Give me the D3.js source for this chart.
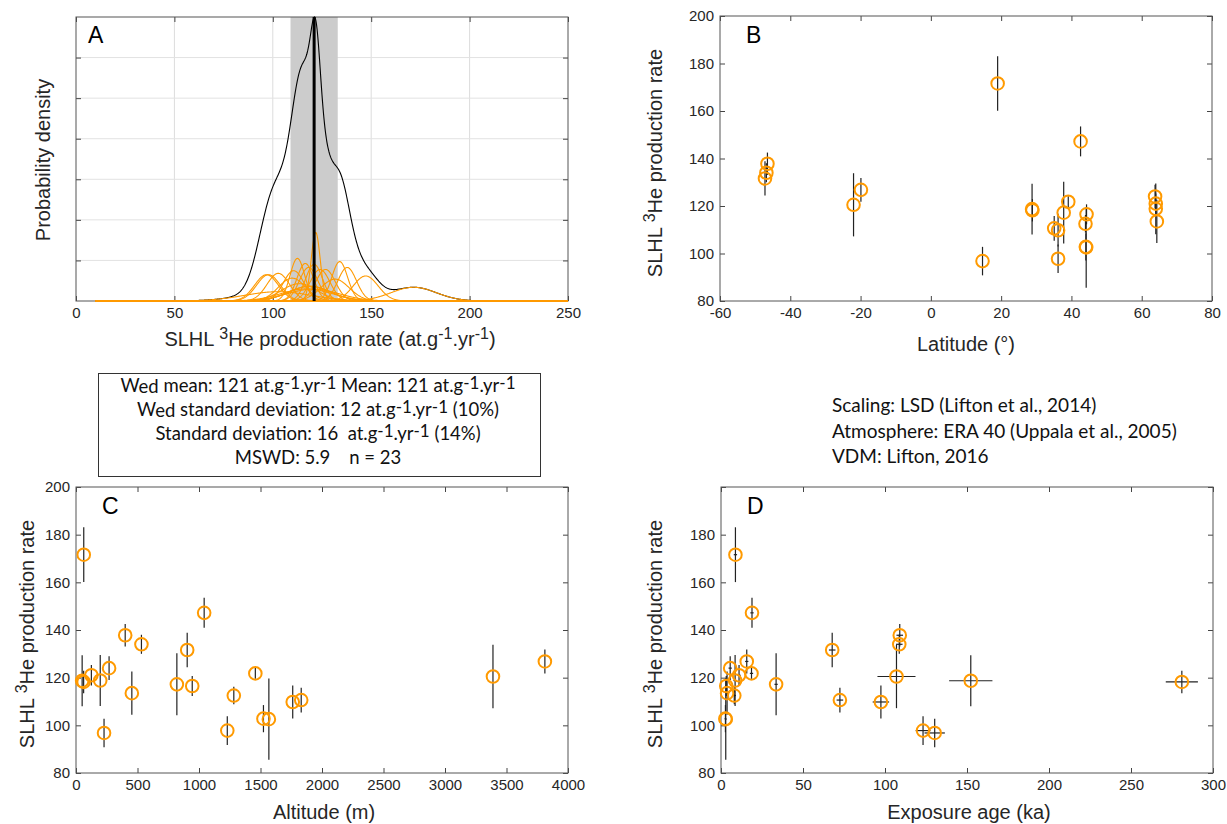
<!DOCTYPE html>
<html>
<head>
<meta charset="utf-8">
<script src="https://cdn.jsdelivr.net/npm/d3@7"></script>
<style>
body { margin: 0; background: #fff; }
svg { display: block; }
text { white-space: pre; }
</style>
</head>
<body>
<svg id="chart" width="1227" height="824"></svg>
<script>
//Sample data (23 calibration sites)
var latitude = [-46.5, -46.8, -47.2, -22.0, -19.9, 14.7, 19.0, 28.8, 28.9, 35.1, 36.2, 36.2, 37.8, 39.1, 42.6, 44.0, 44.3, 44.1, 44.2, 63.8, 64.0, 64.0, 64.3];
var altitude = [400, 532, 904, 3390, 3812, 228, 63, 50, 62, 1831, 1762, 1230, 820, 1458, 1042, 1283, 945, 1524, 1568, 269, 125, 197, 454];
var exposureAge = [109, 108.7, 67.8, 107, 15.7, 130.3, 8.8, 152.3, 281, 72.5, 97.5, 123.2, 33.6, 18.6, 18.9, 8.1, 3.2, 2.7, 2.9, 5.6, 11.0, 8.6, 3.7];
var ageError = [2, 2, 2, 11.6, 1, 6.2, 1, 13.2, 9.8, 2, 5, 4.5, 1, 1, 1, 1, 0.5, 0.5, 0.5, 1, 1, 1, 0.5];
var productionRate = [137.8, 134.0, 131.6, 120.5, 126.8, 96.8, 171.6, 118.7, 118.2, 110.6, 109.8, 97.8, 117.2, 121.8, 147.2, 112.5, 116.5, 102.8, 102.6, 124.0, 121.0, 118.8, 113.5];
var rateError = [4.7, 4.0, 7.2, 13.3, 5.0, 6.0, 11.5, 10.7, 4.7, 5.2, 6.9, 6.0, 13.0, 2.3, 6.3, 3.7, 4.2, 5.7, 17.0, 5.0, 4.3, 10.7, 9.1];

//Summary values
var weightedMean = 121;
var weightedSd = 12;

//Tick values
var densityTicks = [0, 50, 100, 150, 200, 250];
var latTicks = [-60, -40, -20, 0, 20, 40, 60, 80];
var altTicks = [0, 500, 1000, 1500, 2000, 2500, 3000, 3500, 4000];
var ageTicks = [0, 50, 100, 150, 200, 250, 300];
var rateTicks = [80, 100, 120, 140, 160, 180, 200];
var ageRateTicks = [80, 100, 120, 140, 160, 180];

//Text blocks
var statsLines = [
    [{t: 'W'}, {t: 'ed', sub: true}, {t: ' mean: 121 at.g'}, {t: '-1', sup: true}, {t: '.yr'}, {t: '-1', sup: true}, {t: ' Mean: 121 at.g'}, {t: '-1', sup: true}, {t: '.yr'}, {t: '-1', sup: true}],
    [{t: 'W'}, {t: 'ed', sub: true}, {t: ' standard deviation: 12 at.g'}, {t: '-1', sup: true}, {t: '.yr'}, {t: '-1', sup: true}, {t: ' (10%)'}],
    [{t: 'Standard deviation: 16  at.g'}, {t: '-1', sup: true}, {t: '.yr'}, {t: '-1', sup: true}, {t: ' (14%)'}],
    [{t: 'MSWD: 5.9    n = 23'}]
];
var scalingLines = [
    'Scaling: LSD (Lifton et al., 2014)',
    'Atmosphere: ERA 40 (Uppala et al., 2005)',
    'VDM: Lifton, 2016'
];

var orange = '#ff9a00';
var axisFont = '"Liberation Sans", Arial, Helvetica, sans-serif';
var boxFont = 'Lato, "Open Sans", sans-serif';

var svg = d3.select('#chart');

//Writes text parts with raised / lowered pieces
function richText(sel, parts, size, supScale, supRaise, subDrop) {
    var shift = 0;
    var sc = supScale || 0.8;
    var raise = supRaise || 0.36;
    var drop = subDrop || 0.12;
    parts.forEach(function(p) {
        var target = 0;
        if (p.sup) target = -size * raise;
        if (p.sub) target = size * drop;
        sel.append('tspan')
            .attr('dy', target - shift)
            .style('font-size', (p.sup ? size * sc : size) + 'px')
            .text(p.t);
        shift = target;
    });
}

var rateLabel = [{t: 'SLHL '}, {t: '3', sup: true}, {t: 'He production rate'}];

//Draws box, ticks on all four sides and tick labels
function drawFrame(g, box, x, y, xTicks, yTicks, yLabels) {
    var w = box.right - box.left;
    var h = box.bottom - box.top;
    var tickLen = 5;

    g.append('g')
        .attr('transform', 'translate(0,' + h + ')')
        .call(d3.axisBottom(x).tickValues(xTicks).tickSizeInner(-tickLen).tickSizeOuter(0).tickPadding(6)
            .tickFormat(function(d) { return String(d); }));
    g.append('g')
        .call(d3.axisTop(x).tickValues(xTicks).tickSizeInner(-tickLen).tickSizeOuter(0).tickFormat(''));
    g.append('g')
        .call(d3.axisLeft(y).tickValues(yTicks).tickSizeInner(-tickLen).tickSizeOuter(0).tickPadding(6)
            .tickFormat(function(d) { return yLabels && yLabels.indexOf(d) >= 0 ? String(d) : ''; }));
    g.append('g')
        .attr('transform', 'translate(' + w + ',0)')
        .call(d3.axisRight(y).tickValues(yTicks).tickSizeInner(-tickLen).tickSizeOuter(0).tickFormat(''));

    g.selectAll('.domain').remove();
    g.selectAll('.tick line').attr('stroke', '#444');
    g.selectAll('.tick text')
        .attr('fill', '#262626')
        .style('font-family', axisFont)
        .style('font-size', '15px');

    g.append('rect')
        .attr('width', w)
        .attr('height', h)
        .attr('fill', 'none')
        .attr('stroke', '#555')
        .attr('stroke-width', 1);
}

function panelLetter(g, letter, dx, dy) {
    g.append('text')
        .attr('x', dx)
        .attr('y', dy)
        .style('font-family', axisFont)
        .style('font-size', '23px')
        .attr('fill', '#000')
        .text(letter);
}

function yTitle(px, py, parts, size) {
    var t = svg.append('text')
        .attr('transform', 'translate(' + px + ',' + py + ') rotate(-90)')
        .attr('text-anchor', 'middle')
        .style('font-family', axisFont)
        .style('font-size', size + 'px')
        .attr('fill', '#262626');
    richText(t, parts, size);
}

function xTitle(px, py, parts, size) {
    var t = svg.append('text')
        .attr('x', px)
        .attr('y', py)
        .attr('text-anchor', 'middle')
        .style('font-family', axisFont)
        .style('font-size', size + 'px')
        .attr('fill', '#262626');
    richText(t, parts, size);
}

//Scatter panel with error bars
function scatterPanel(box, xDomain, xValues, xErrors, xTicks, yTicks, yLabels, letter) {
    var g = svg.append('g').attr('transform', 'translate(' + box.left + ',' + box.top + ')');
    var x = d3.scaleLinear().domain(xDomain).range([0, box.right - box.left]);
    var y = d3.scaleLinear().domain([80, 200]).range([box.bottom - box.top, 0]);

    drawFrame(g, box, x, y, xTicks, yTicks, yLabels);
    panelLetter(g, letter, 26, 27);

    var pts = productionRate.map(function(r, i) {
        return {x: xValues[i], xe: xErrors ? xErrors[i] : 0, y: r, ye: rateError[i]};
    });

    //Vertical error bars
    g.selectAll('.vbar').data(pts).enter().append('line')
        .attr('class', 'vbar')
        .attr('x1', function(d) { return x(d.x); })
        .attr('x2', function(d) { return x(d.x); })
        .attr('y1', function(d) { return y(d.y - d.ye); })
        .attr('y2', function(d) { return y(d.y + d.ye); })
        .attr('stroke', '#222')
        .attr('stroke-width', 1.2);

    //Horizontal error bars
    if (xErrors) {
        g.selectAll('.hbar').data(pts).enter().append('line')
            .attr('class', 'hbar')
            .attr('x1', function(d) { return x(d.x - d.xe); })
            .attr('x2', function(d) { return x(d.x + d.xe); })
            .attr('y1', function(d) { return y(d.y); })
            .attr('y2', function(d) { return y(d.y); })
            .attr('stroke', '#222')
            .attr('stroke-width', 1.2);
    }

    g.selectAll('.pt').data(pts).enter().append('circle')
        .attr('class', 'pt')
        .attr('cx', function(d) { return x(d.x); })
        .attr('cy', function(d) { return y(d.y); })
        .attr('r', 6.3)
        .attr('fill', 'none')
        .attr('stroke', orange)
        .attr('stroke-width', 2);
}

// ---- Panel A : probability density ----
var boxA = {left: 76, right: 568, top: 17, bottom: 301};
var gA = svg.append('g').attr('transform', 'translate(' + boxA.left + ',' + boxA.top + ')');
var wA = boxA.right - boxA.left;
var hA = boxA.bottom - boxA.top;

var xs = d3.range(10, 250.01, 0.25);
var curves = productionRate.map(function(r, i) {
    var s = rateError[i];
    return xs.map(function(v) {
        return [v, Math.exp(-0.5 * Math.pow((v - r) / s, 2)) / (s * Math.sqrt(2 * Math.PI))];
    });
});
var total = xs.map(function(v, j) {
    return [v, d3.sum(curves, function(c) { return c[j][1]; })];
});
var maxDensity = d3.max(total, function(d) { return d[1]; });

var xA = d3.scaleLinear().domain([0, 250]).range([0, wA]);
var yA = d3.scaleLinear().domain([0, maxDensity]).range([hA, 0]);
var densityGrid = d3.range(1, 7).map(function(k) { return maxDensity * k / 7; });

//Grid
gA.selectAll('.vgrid').data([50, 100, 150, 200]).enter().append('line')
    .attr('x1', function(d) { return xA(d); })
    .attr('x2', function(d) { return xA(d); })
    .attr('y1', 0).attr('y2', hA)
    .attr('stroke', '#dcdcdc');
gA.selectAll('.hgrid').data(densityGrid).enter().append('line')
    .attr('x1', 0).attr('x2', wA)
    .attr('y1', function(d) { return yA(d); })
    .attr('y2', function(d) { return yA(d); })
    .attr('stroke', '#e2e2e2');

//Weighted standard deviation band
gA.append('rect')
    .attr('x', xA(weightedMean - weightedSd))
    .attr('width', xA(weightedMean + weightedSd) - xA(weightedMean - weightedSd))
    .attr('y', 0)
    .attr('height', hA)
    .attr('fill', '#cccccc');

drawFrame(gA, boxA, xA, yA, densityTicks, densityGrid, null);

var lineA = d3.line()
    .x(function(d) { return xA(d[0]); })
    .y(function(d) { return yA(d[1]); });

gA.append('path')
    .datum(total)
    .attr('d', lineA)
    .attr('fill', 'none')
    .attr('stroke', '#000')
    .attr('stroke-width', 1.1);

gA.selectAll('.pdf').data(curves).enter().append('path')
    .attr('class', 'pdf')
    .attr('d', lineA)
    .attr('fill', 'none')
    .attr('stroke', orange)
    .attr('stroke-width', 1.1);

//Weighted mean line
gA.append('line')
    .attr('x1', xA(weightedMean)).attr('x2', xA(weightedMean))
    .attr('y1', 0).attr('y2', hA)
    .attr('stroke', '#000')
    .attr('stroke-width', 3);

panelLetter(gA, 'A', 12, 26);

yTitle(50, 160, [{t: 'Probability density'}], 20);
xTitle(330, 346, [{t: 'SLHL '}, {t: '3', sup: true}, {t: 'He production rate (at.g'}, {t: '-1', sup: true}, {t: '.yr'}, {t: '-1', sup: true}, {t: ')'}], 20);

// ---- Panels B, C, D ----
scatterPanel({left: 720, right: 1212, top: 16, bottom: 301}, [-60, 80], latitude, null, latTicks, rateTicks, rateTicks, 'B');
yTitle(662, 163, rateLabel, 20);
xTitle(966, 351, [{t: 'Latitude (°)'}], 20);

scatterPanel({left: 76, right: 568, top: 487, bottom: 773}, [0, 4000], altitude, null, altTicks, rateTicks, rateTicks, 'C');
yTitle(34, 634, rateLabel, 20);
xTitle(324, 819, [{t: 'Altitude (m)'}], 20);

scatterPanel({left: 721, right: 1213, top: 487, bottom: 773}, [0, 300], exposureAge, ageError, ageTicks, rateTicks, ageRateTicks, 'D');
yTitle(662, 634, rateLabel, 20);
xTitle(969, 819, [{t: 'Exposure age (ka)'}], 20);

// ---- Statistics box ----
svg.append('rect')
    .attr('x', 98.5).attr('y', 373.5)
    .attr('width', 442).attr('height', 103)
    .attr('fill', '#fff')
    .attr('stroke', '#333')
    .attr('stroke-width', 1);

statsLines.forEach(function(parts, i) {
    var t = svg.append('text')
        .attr('x', 318)
        .attr('y', 392 + i * 24)
        .attr('text-anchor', 'middle')
        .style('font-family', boxFont)
        .style('font-size', '18.5px')
        .attr('fill', '#111');
    richText(t, parts, 18.5, 0.92, 0.14, 0.06);
});

scalingLines.forEach(function(s, i) {
    svg.append('text')
        .attr('x', 832)
        .attr('y', 412 + i * 25.5)
        .style('font-family', boxFont)
        .style('font-size', '19px')
        .attr('fill', '#111')
        .text(s);
});
</script>
</body>
</html>
